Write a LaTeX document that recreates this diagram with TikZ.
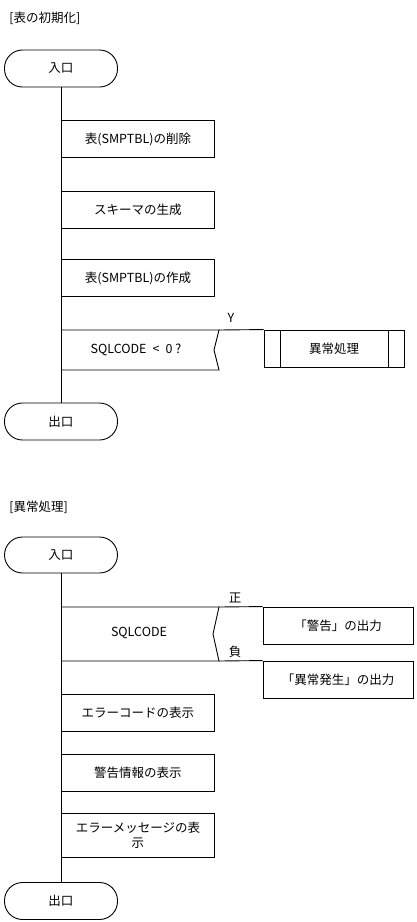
\documentclass[tikz,border=0pt]{standalone}
\usepackage{fontspec}
\setmainfont{Noto Sans CJK JP}
\begin{document}
\begin{tikzpicture}[x=1pt,y=-1pt, line width=0.9pt,
  every node/.style={font=\fontsize{12.5}{15}\selectfont},
  term/.style={draw, rounded corners=18pt, minimum width=113pt, minimum height=37pt, inner sep=0pt},
  proc/.style={draw, minimum width=153pt, minimum height=37pt, inner sep=0pt, align=center},
  outbox/.style={draw, minimum width=150pt, minimum height=37pt, inner sep=0pt},
  lbl/.style={inner sep=0pt}]
\useasboundingbox (0,0) rectangle (417,922);
% ---------- section 1
\node[lbl, anchor=west] (t1) at (9,18) {[表の初期化]};
\node[term] (in1) at (61,68.5) {入口};
\node[term] (out1) at (61,421.5) {出口};
\draw (in1.south) -- (out1.north);
\node[proc, anchor=west] (p1) at (61,139) {表(SMPTBL)の削除};
\node[proc, anchor=west] (p2) at (61,209.5) {スキーマの生成};
\node[proc, anchor=west] (p3) at (61,278) {表(SMPTBL)の作成};
% decision 1
\coordinate (d1tl) at (61,330);
\coordinate (d1tr) at (219,330);
\coordinate (d1m) at (214,350);
\coordinate (d1br) at (219,370);
\coordinate (d1bl) at (61,370);
\draw (d1tl) -- (d1tr) -- (d1m) -- (d1br) -- (d1bl);
\node[lbl] (d1) at (136,350) {SQLCODE\hspace{6pt}<\hspace{6pt}0\hspace{3pt}?};
\node[lbl] (y1) at (231,318) {Y};
\node[draw, minimum width=140pt, minimum height=37pt, inner sep=0pt] (sub1) at (334,348.5) {異常処理};
\draw ([xshift=17pt]sub1.north west) -- ([xshift=17pt]sub1.south west);
\draw ([xshift=-16pt]sub1.north east) -- ([xshift=-16pt]sub1.south east);
\draw (d1tr) -- (sub1.north west);
% ---------- section 2
\node[lbl, anchor=west] (t2) at (9,507) {[異常処理]};
\node[term, minimum height=36pt] (in2) at (61,555) {入口};
\node[term] (out2) at (61,901) {出口};
\draw (in2.south) -- (out2.north);
% decision 2
\coordinate (d2tl) at (61,607);
\coordinate (d2tr) at (219,607);
\coordinate (d2m) at (213,634);
\coordinate (d2br) at (219,661);
\coordinate (d2bl) at (61,661);
\draw (d2tl) -- (d2tr) -- (d2m) -- (d2br) -- (d2bl);
\node[lbl] (d2) at (139,633) {SQLCODE};
\node[lbl] (pos) at (235,598) {正};
\node[lbl] (neg) at (235,652) {負};
\node[outbox] (o1) at (338,625.5) {「警告」の出力};
\node[outbox] (o2) at (338,679.5) {「異常発生」の出力};
\draw (d2tr) -- (o1.north west);
\draw (d2br) -- (o2.north west);
\node[proc, anchor=west] (q1) at (61,713) {エラーコードの表示};
\node[proc, anchor=west] (q2) at (61,773) {警告情報の表示};
\node[proc, anchor=west, minimum height=44pt] (q3) at (61,835) {エラーメッセージの表\\示};
\end{tikzpicture}
\end{document}
